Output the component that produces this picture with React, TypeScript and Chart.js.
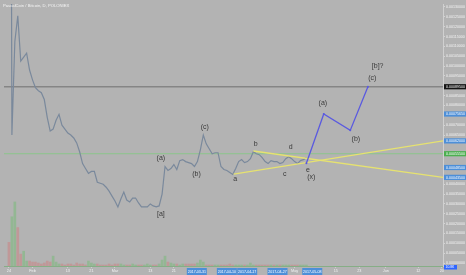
import React, { useEffect, useRef } from "react";
import { Chart, registerables } from "chart.js";

Chart.register(...registerables);

const title = "PascalCoin / Bitcoin, D, POLONIEX";

// Daily closes in satoshi, day 0 = 2017-01-24
const closeSat = [
  631500, 65000, 112500, 125500, 102500, 104500, 106500, 98000, 93000, 89000,
  87500, 86500, 83000, 74000, 67000, 68000, 72500, 75500, 70000, 68000,
  66000, 65000, 63500, 61000, 56500, 50500, 48000, 45500, 46500, 46500,
  41000, 40500, 40000, 38500, 36500, 34000, 31500, 28500, 32500, 36000,
  32000, 31000, 33000, 33000, 30500, 28500, 28500, 28500, 30000, 29000,
  28500, 29000, 35000, 49000, 47000, 48000, 50000, 47500, 52000, 52500,
  51500, 51000, 50500, 49000, 51500, 57500, 65000, 60500, 58000, 55500,
  56000, 56000, 49000, 47500, 47000, 46000, 45000, 48000, 51500, 52500,
  51000, 51500, 53000, 56500, 55500, 55000, 53500, 51500, 50500, 52000,
  51500, 51500, 50500, 51000, 53000, 54000, 53000, 51500, 50500, 52000,
  52500, 53500,
];

const volume = [
  24, 50, 65, 39, 12, 15, 5, 5, 4, 4,
  3, 2, 3, 5, 4, 10, 4, 2, 2, 1,
  2, 2, 1, 3, 2, 2, 1, 5, 3, 2,
  2, 1, 1, 1, 2, 1, 2, 2, 2, 1,
  1, 1, 2, 1, 1, 1, 1, 2, 1, 1,
  1, 2, 6, 10, 4, 3, 2, 2, 1, 2,
  2, 2, 2, 2, 3, 6, 4, 1, 1, 1,
  1, 1, 1, 1, 1, 2, 1, 1, 1, 1,
  1, 1, 3, 1, 1, 1, 1, 1, 1, 1,
  1, 1, 1, 1, 1, 1, 1, 1, 1, 1,
  1, 1,
];

const volumeUp = [
  0, 1, 1, 0, 0, 1, 1, 0, 0, 0,
  0, 0, 0, 0, 0, 1, 1, 1, 0, 0,
  0, 0, 0, 0, 0, 0, 0, 1, 1, 1,
  0, 0, 0, 0, 0, 0, 0, 0, 1, 1,
  0, 0, 1, 1, 0, 0, 1, 1, 1, 0,
  0, 1, 1, 1, 0, 1, 1, 0, 1, 1,
  0, 0, 0, 0, 1, 1, 1, 0, 0, 0,
  1, 1, 0, 0, 0, 0, 0, 1, 1, 1,
  0, 1, 1, 1, 0, 0, 0, 0, 0, 1,
  0, 1, 0, 1, 1, 1, 0, 0, 0, 1,
  1, 1,
];

// Elliott projection (blue)
const projDays = [101, 106.9, 115.9, 121.9];
const projValues = [50650, 75650, 67350, 89500];

// Triangle trendlines (yellow)
const riseDays = [76.3, 147.4];
const riseValues = [45150, 62000];
const fallDays = [83.0, 147.4];
const fallValues = [56850, 43500];

// Horizontal levels
const targetLevel = 89500;
const lastPriceLevel = 55500;

// Wave labels
const waveTexts = ["(a)", "(b)", "(c)", "[a]", "a", "b", "c", "d", "e", "(x)", "(a)", "(b)", "(c)", "[b]?"];
const waveDays = [51.6, 63.7, 66.5, 51.6, 76.8, 83.8, 93.7, 95.7, 101.5, 102.7, 106.6, 117.8, 123.4, 125.2];
const waveValues = [53500, 45000, 69000, 25000, 42500, 60650, 45150, 59000, 47350, 43500, 81150, 63150, 93650, 100150];

// Price axis
const priceTicks = [
  0, 5000, 10000, 15000, 20000, 25000, 30000, 35000, 40000, 45000, 50000, 55000, 60000,
  65000, 70000, 75000, 80000, 85000, 90000, 95000, 100000, 105000, 110000, 115000,
  120000, 125000, 130000,
];
const markerValues = [89500, 75650, 62000, 55500, 48500, 43500];
const markerColors = ["#141414", "#4d8fd8", "#4d8fd8", "#4caf50", "#4d8fd8", "#4d8fd8"];

// Time axis
const xTickDays = [0, 8, 20, 28, 36, 48, 56, 97, 111, 119, 128, 139, 147];
const xTickLabels = ["24", "Feb", "13", "21", "Mar", "13", "21", "May", "15", "23", "Jun", "12", "20"];
const dateBoxDays = [63.8, 74.0, 80.9, 91.2, 103.0];
const dateBoxLabels = ["2017-03-31", "2017-04-10", "2017-04-17", "2017-04-27", "2017-05-08"];

const xMin = -1.683;
const xMax = 147.4;
const yMin = -1500;
const yMax = 131500;

const fmt = (v: number) => (v / 1e8).toFixed(8);

export default function App() {
  const ref = useRef<HTMLCanvasElement>(null);

  useEffect(() => {
    document.body.style.margin = "0";
    const canvas = ref.current;
    if (!canvas) return;

    const bgPlugin = {
      id: "bg",
      beforeDraw(chart: any) {
        const { ctx, width, height } = chart;
        ctx.save();
        ctx.fillStyle = "#b3b3b3";
        ctx.fillRect(0, 0, width, height);
        ctx.restore();
      },
    };

    const overlay = {
      id: "overlay",
      afterDraw(chart: any) {
        const { ctx } = chart;
        const xs = chart.scales.x;
        const ys = chart.scales.y;
        const area = chart.chartArea;
        ctx.save();
        // title
        ctx.fillStyle = "#f4f4f4";
        ctx.font = "4.2px Arial";
        ctx.textAlign = "left";
        ctx.textBaseline = "middle";
        ctx.fillText(title, 3, 5.5);

        // wave labels
        ctx.fillStyle = "#3a3a3a";
        ctx.font = "7px Arial";
        ctx.textAlign = "center";
        ctx.textBaseline = "middle";
        waveTexts.forEach((t, i) => {
          ctx.fillText(t, xs.getPixelForValue(waveDays[i]), ys.getPixelForValue(waveValues[i]));
        });

        // axis markers
        markerValues.forEach((v, i) => {
          const y = ys.getPixelForValue(v);
          ctx.fillStyle = markerColors[i];
          ctx.fillRect(area.right + 1, y - 2.6, 22, 5.2);
          ctx.fillStyle = "#ffffff";
          ctx.font = "3.6px Arial";
          ctx.textAlign = "left";
          ctx.fillText(fmt(v), area.right + 3, y + 0.2);
        });

        // date boxes on time axis
        dateBoxDays.forEach((d, i) => {
          const x = xs.getPixelForValue(d);
          ctx.fillStyle = "#4d8fd8";
          ctx.fillRect(x - 10, area.bottom + 2, 20, 7);
          ctx.fillStyle = "#ffffff";
          ctx.font = "3.6px Arial";
          ctx.textAlign = "center";
          ctx.fillText(dateBoxLabels[i], x, area.bottom + 5.6);
        });

        // volume label
        ctx.fillStyle = "#2f66ff";
        ctx.fillRect(area.right + 1, area.bottom - 1, 13, 4.5);
        ctx.fillStyle = "#ffffff";
        ctx.font = "3.4px Arial";
        ctx.textAlign = "left";
        ctx.fillText("10.8K", area.right + 2.5, area.bottom + 1.3);
        ctx.restore();
      },
    };

    const line = (xsArr: number[], ysArr: number[]) => xsArr.map((x, i) => ({ x, y: ysArr[i] }));

    const chart = new Chart(canvas, {
      type: "line",
      data: {
        datasets: [
          {
            type: "bar",
            yAxisID: "yv",
            data: volume.map((v, i) => ({ x: i, y: v })),
            backgroundColor: volumeUp.map((u) => (u ? "rgba(120,185,120,0.55)" : "rgba(205,125,125,0.5)")),
            barThickness: 2,
            order: 10,
          } as any,
          {
            data: line([xMin, xMax], [targetLevel, targetLevel]),
            borderColor: "#858585",
            borderWidth: 1.6,
            pointRadius: 0,
            order: 8,
          },
          {
            data: line([xMin, xMax], [lastPriceLevel, lastPriceLevel]),
            borderColor: "#8cc58c",
            borderWidth: 1,
            pointRadius: 0,
            order: 7,
          },
          {
            data: closeSat.map((v, i) => ({ x: i, y: v })),
            borderColor: "#7a899c",
            borderWidth: 1.2,
            pointRadius: 0,
            tension: 0,
            order: 5,
          },
          {
            data: line(riseDays, riseValues),
            borderColor: "#e6e270",
            borderWidth: 1.4,
            pointRadius: 0,
            order: 3,
          },
          {
            data: line(fallDays, fallValues),
            borderColor: "#e6e270",
            borderWidth: 1.4,
            pointRadius: 0,
            order: 3,
          },
          {
            data: line(projDays, projValues),
            borderColor: "#5a5ae0",
            backgroundColor: "#5a5ae0",
            borderWidth: 1.3,
            pointRadius: 1,
            pointBorderWidth: 0,
            order: 1,
          },
        ],
      },
      options: {
        responsive: false,
        animation: false,
        devicePixelRatio: 1,
        events: [],
        layout: { padding: 0 },
        plugins: { legend: { display: false }, tooltip: { enabled: false } },
        scales: {
          x: {
            type: "linear",
            min: xMin,
            max: xMax,
            offset: false,
            afterBuildTicks: (s: any) => {
              s.ticks = xTickDays.map((v) => ({ value: v }));
            },
            afterFit: (s: any) => {
              s.height = 9;
              s.paddingLeft = 0;
              s.paddingRight = 0;
            },
            ticks: {
              autoSkip: false,
              maxRotation: 0,
              padding: 1,
              color: "#f2f2f2",
              font: { size: 3.8, family: "Arial" },
              callback: (_v: any, i: number) => xTickLabels[i],
            },
            grid: { drawOnChartArea: false, tickLength: 2, color: "#cfcfcf", offset: false },
            border: { color: "#86ae86" },
          },
          y: {
            type: "linear",
            position: "right",
            min: yMin,
            max: yMax,
            afterBuildTicks: (s: any) => {
              s.ticks = priceTicks
                .filter((v) => markerValues.every((m) => Math.abs(v - m) > 2600))
                .map((v) => ({ value: v }));
            },
            afterFit: (s: any) => {
              s.width = 23;
              s.paddingTop = 0;
              s.paddingBottom = 0;
            },
            ticks: {
              autoSkip: false,
              padding: 1,
              color: "#f4f4f4",
              font: { size: 3.6, family: "Arial" },
              callback: (v: any) => fmt(Number(v)),
            },
            grid: { drawOnChartArea: false, tickLength: 2, color: "#d4d4d4" },
            border: { color: "#d0d0d0" },
          },
          yv: {
            type: "linear",
            display: false,
            min: 0,
            max: 266,
          },
        },
      } as any,
      plugins: [bgPlugin, overlay],
    });

    return () => chart.destroy();
  }, []);

  return (
    <div style={{ width: 466, height: 275 }}>
      <canvas ref={ref} width={466} height={275} style={{ display: "block" }} />
    </div>
  );
}
